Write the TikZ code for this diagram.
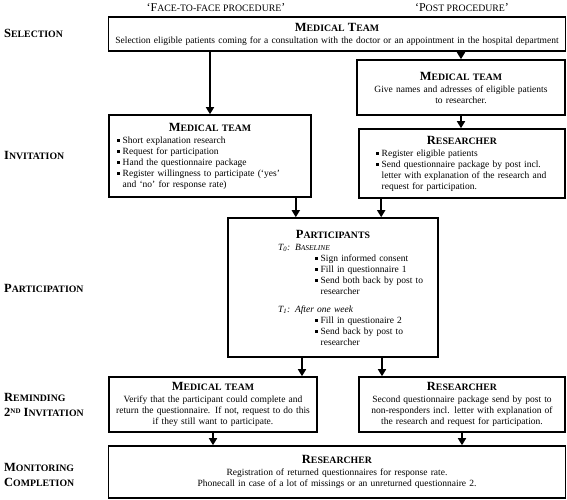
\documentclass[tikz,border=0pt]{standalone}
\usepackage{fontspec}
\setmainfont{Liberation Serif}
\usetikzlibrary{arrows.meta}
\newcommand{\capL}[1]{{\fontsize{12.5}{14}\selectfont #1}}
\newcommand{\capS}[1]{{\fontsize{9.8}{14}\selectfont #1}}
\newcommand{\bul}{\rule[0.35ex]{0.3em}{0.3em}\hspace{0.3em}}
\newcommand{\ind}{\hphantom{\bul}}
\newcommand{\ctr}[1]{\makebox[\linewidth]{\textbf{#1}}}

\begin{document}
\begin{tikzpicture}[x=1pt,y=-1pt,
  box/.style={draw=black,line width=1.6pt,inner sep=0pt,align=center,
    font=\fontsize{9.5}{11}\selectfont},
  arr/.style={line width=1.6pt,-{Triangle[width=8pt,length=7pt]}},
  lab/.style={anchor=west,align=left,inner sep=0pt,
    font=\fontsize{12.5}{15}\selectfont\bfseries}]
  \useasboundingbox (0,0) rectangle (567,500);
  \node[font=\fontsize{12}{14}\selectfont] (hff) at (216,8) {‘F\capS{ACE-TO-FACE PROCEDURE}’};
  \node[font=\fontsize{12}{14}\selectfont] (hpost) at (462,8) {‘P\capS{OST PROCEDURE}’};
  \node[lab] (lsel) at (4,33) {S\capS{ELECTION}};
  \node[lab] (linv) at (4,155) {I\capS{NVITATION}};
  \node[lab] (lpart) at (4,288) {P\capS{ARTICIPATION}};
  \node[lab] (lrem) at (4,405) {R\capS{EMINDING}\\
    2\raisebox{3pt}{\fontsize{7}{8}\selectfont ND} I\capS{NVITATION}};
  \node[lab] (lmon) at (4,475) {M\capS{ONITORING}\\ C\capS{OMPLETION}};
  \node[box,minimum width=457,minimum height=34,text width=452] (sel) at (337,34)
    {\textbf{\capL{M}\capS{EDICAL} \capL{T}\capS{EAM}}\\[1pt]
     Selection eligible patients coming for a consultation with the doctor or an appointment in the hospital department};
  \node[box,minimum width=208,minimum height=55,text width=200] (medR) at (461,87.5)
    {\textbf{\capL{M}\capS{EDICAL TEAM}}\\[1pt]
     Give names and adresses of eligible patients\\ to researcher.};
  \node[box,align=left,minimum width=202,minimum height=82,text width=186] (medL) at (210,156)
    {\ctr{\capL{M}\capS{EDICAL TEAM}}\\[1pt]
     \bul Short explanation research\\
     \bul Request for participation\\
     \bul Hand the questionnaire package\\
     \bul Register willingness to participate (‘yes’\\
     \ind and ‘no’ for response rate)};
  \node[box,align=left,minimum width=206,minimum height=69,text width=172] (resR) at (462,163.5)
    {\ctr{\capL{R}\capS{ESEARCHER}}\\[1pt]
     \bul Register eligible patients\\
     \bul Send questionnaire package by post incl.\\
     \ind letter with explanation of the research and\\
     \ind request for participation.};
  \node[box,align=left,minimum width=210,minimum height=139,text width=200] (part) at (333,287.5)
    {\ctr{\capL{P}\capS{ARTICIPANTS}}\\[1pt]
     \hspace*{45pt}\textit{T\textsubscript{0}: B{\fontsize{7.5}{8}\selectfont ASELINE}}\\
     \hspace*{82pt}\bul Sign informed consent\\
     \hspace*{82pt}\bul Fill in questionnaire 1\\
     \hspace*{82pt}\bul Send both back by post to\\
     \hspace*{82pt}\ind researcher\\[7pt]
     \hspace*{45pt}\textit{T\textsubscript{1}: After one week}\\
     \hspace*{82pt}\bul Fill in questionaire 2\\
     \hspace*{82pt}\bul Send back by post to\\
     \hspace*{82pt}\ind researcher};
  \node[box,minimum width=208,minimum height=55,text width=204] (remL) at (213,404.5)
    {\textbf{\capL{M}\capS{EDICAL TEAM}}\\[1pt]
     Verify that the participant could complete and\\
     return the questionnaire. If not, request to do this\\
     if they still want to participate.};
  \node[box,minimum width=206,minimum height=55,text width=202] (remR) at (462,404.5)
    {\textbf{\capL{R}\capS{ESEARCHER}}\\[1pt]
     Second questionnaire package send by post to\\
     non-responders incl. letter with explanation of\\
     the research and request for participation.};
  \node[box,minimum width=457,minimum height=52,text width=450] (mon) at (337,472)
    {\textbf{\capL{R}\capS{ESEARCHER}}\\[1pt]
     Registration of returned questionnaires for response rate.\\
     Phonecall in case of a lot of missings or an unreturned questionnaire 2.};
  \draw[arr] (sel.south -| medL.north) -- (medL.north);
  \draw[arr] (sel.south -| medR.north) -- (medR.north);
  \draw[arr] (medR.south) -- (medR.south |- resR.north);
  \draw[arr] ([xshift=-16pt]medL.south east) -- ([xshift=-16pt]medL.south east |- part.north);
  \draw[arr] ([xshift=23pt]resR.south west) -- ([xshift=23pt]resR.south west |- part.north);
  \draw[arr] ([xshift=-31pt]part.south) -- ([xshift=-31pt]part.south |- remL.north);
  \draw[arr] ([xshift=49pt]part.south) -- ([xshift=49pt]part.south |- remR.north);
  \draw[arr] (remL.south) -- (remL.south |- mon.north);
  \draw[arr] (remR.south) -- (remR.south |- mon.north);
\end{tikzpicture}
\end{document}
